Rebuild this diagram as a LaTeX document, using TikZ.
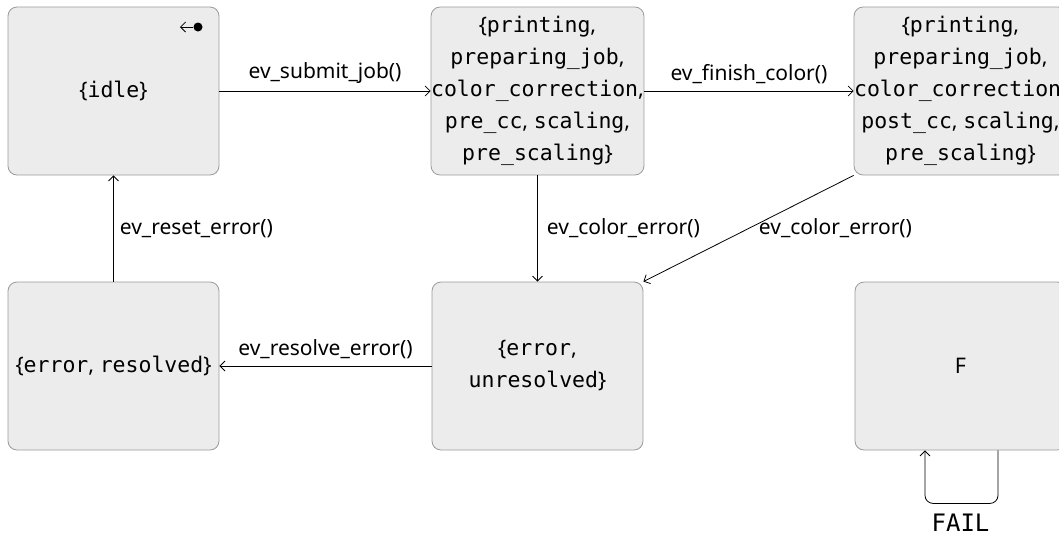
\documentclass[tikz,border=0pt]{standalone}
\usepackage{fontspec}
\setmainfont{Noto Sans}
\newfontfamily\statefont{DejaVu Sans Mono}
\usetikzlibrary{arrows.meta}
\definecolor{boxfill}{HTML}{ECECEC}
\definecolor{boxline}{HTML}{9A9A9A}
\newcommand{\mn}[1]{{\statefont #1}}
\begin{document}
\begin{tikzpicture}[x=1pt,y=-1pt,
  state/.style={draw=boxline, fill=boxfill, rounded corners=9pt,
    minimum width=211pt, minimum height=168pt, align=center, inner sep=0pt,
    line width=0.8pt, font=\fontsize{21.5}{32}\selectfont},
  trans/.style={draw=black, line width=0.8pt,
    -{Straight Barb[length=5pt,width=10pt]}},
  lbl/.style={font=\fontsize{21}{24}\selectfont, inner sep=2pt}]
\useasboundingbox (0,0) rectangle (1059,539);
\clip (0,0) rectangle (1059,539);

% states
\node[state] (idle) at (113.5,91) {\{\mn{idle}\}};
\node[state] (prep) at (537.5,91) {\{\mn{printing},\\ \mn{preparing\_job},\\
  \mn{color\_correction},\\ \mn{pre\_cc}, \mn{scaling},\\ \mn{pre\_scaling}\}};
\node[state] (post) at (960.5,91) {\{\mn{printing},\\ \mn{preparing\_job},\\
  \mn{color\_correction},\\ \mn{post\_cc}, \mn{scaling},\\ \mn{pre\_scaling}\}};
\node[state] (resolved) at (113.5,366) {\{\mn{error}, \mn{resolved}\}};
\node[state] (unresolved) at (537.5,366) {\{\mn{error},\\ \mn{unresolved}\}};
\node[state] (fail) at (960.5,366) {F};

% initial marker
\node[circle, fill=black, inner sep=0pt, minimum size=9pt] (init) at (198,27) {};
\coordinate (initend) at (180,27);
\draw[trans] (init) -- (initend);

% transitions
\draw[trans] (idle) -- (prep)
  node[midway, above=5pt, lbl] {ev\_submit\_job()};
\draw[trans] (prep) -- (post)
  node[midway, above=5pt, lbl] {ev\_finish\_color()};
\draw[trans] (prep) -- (unresolved)
  node[midway, anchor=west, xshift=7pt, lbl] {ev\_color\_error()};
\draw[trans] (post.south west) -- (unresolved.north east)
  node[midway, anchor=west, xshift=8pt, lbl] {ev\_color\_error()};
\draw[trans] (unresolved) -- (resolved)
  node[midway, above=5pt, lbl] {ev\_resolve\_error()};
\draw[trans] (resolved) -- (idle)
  node[midway, anchor=west, xshift=4pt, lbl] {ev\_reset\_error()};

% self loop on F
\coordinate (loopout) at ([xshift=37.5pt]fail.south);
\coordinate (loopin) at ([xshift=-35.5pt]fail.south);
\draw[trans, rounded corners=8pt] (loopout) -- ++(0,53) -| (loopin);
\node[font=\fontsize{24}{28}\selectfont\statefont] (failtxt) at (960.5,523) {FAIL};
\end{tikzpicture}
\end{document}
